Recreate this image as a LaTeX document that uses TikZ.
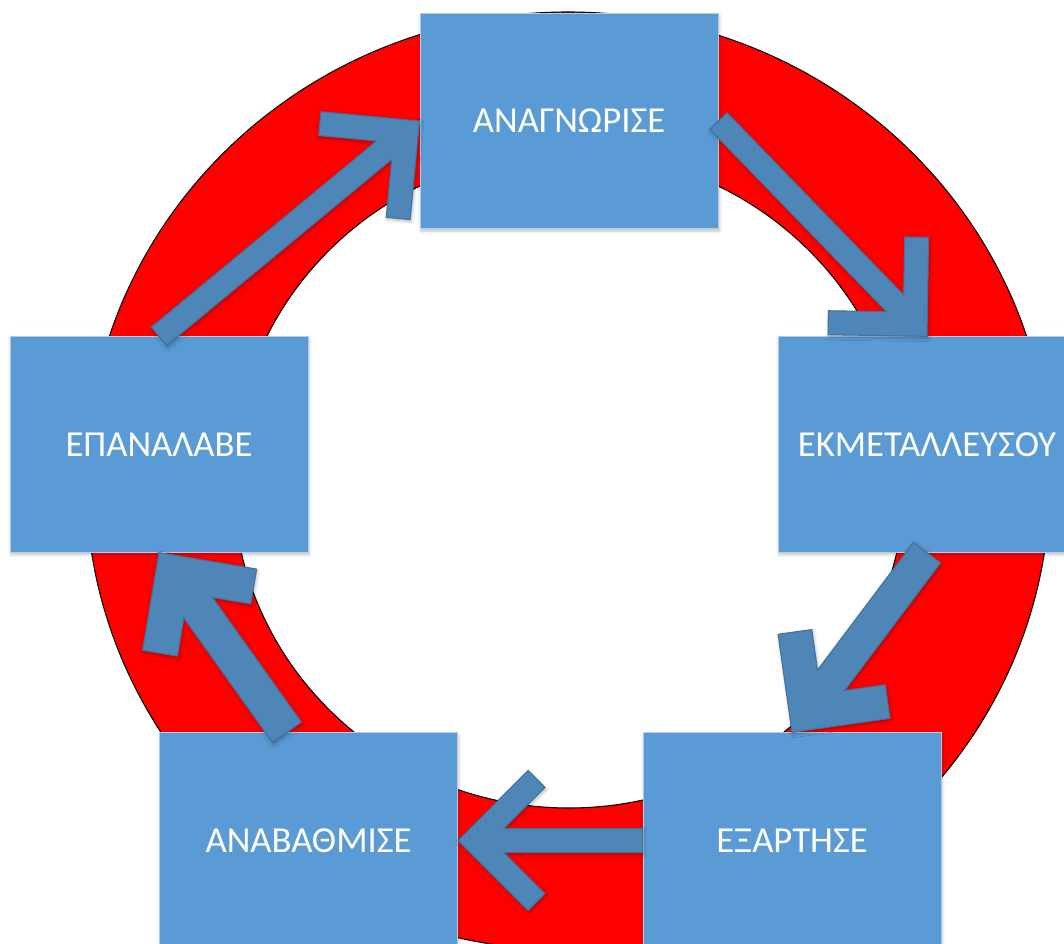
\documentclass[tikz,border=0pt]{standalone}
\usepackage{fontspec}
\setmainfont{Carlito}
\usetikzlibrary{calc,shadows.blur}

\definecolor{boxblue}{HTML}{5B9BD5}
\definecolor{boxedge}{HTML}{B4CCE6}
\definecolor{arrowblue}{HTML}{4F86B8}
\definecolor{arrowedge}{HTML}{41719C}

\tikzset{
  stagebox/.style={draw=boxedge, line width=0.75pt, fill=boxblue,
    minimum width=223.5pt, minimum height=161.5pt, inner sep=0pt,
    text=white, font=\fontsize{27.5pt}{32pt}\selectfont,
    blur shadow={shadow xshift=0.8pt, shadow yshift=-1.8pt,
      shadow blur radius=2.5pt, shadow opacity=25}},
  ringline/.style={fill=red, draw=black, line width=0.8pt, even odd rule},
  flowarrow/.style={fill=arrowblue, draw=arrowedge, line width=0.8pt,
    line join=miter,
    blur shadow={shadow xshift=0.8pt, shadow yshift=-1.5pt,
      shadow blur radius=2.5pt, shadow opacity=30}}
}

% Thick open-headed arrow from #2 (tail) to #3 (tip), #1 = band width in pt.
% Both arms leave the tip at 45 degrees and end 52.5pt back and 52.5pt out.
\newcommand{\cyclearrow}[3]{%
  \pgfmathsetlengthmacro{\capA}{52.5pt+0.7071*#1pt}%
  \pgfmathsetlengthmacro{\capP}{52.5pt-0.7071*#1pt}%
  \pgfmathsetlengthmacro{\joinA}{1.9142*#1pt}%
  \pgfmathsetlengthmacro{\halfW}{0.5*#1pt}%
  \path (#3) coordinate (t0) (#2) coordinate (t1);
  \path ($(t0)!52.5pt!(t1)$) coordinate (mo)
        ($(t0)!\capA!(t1)$) coordinate (mi)
        ($(t0)!\joinA!(t1)$) coordinate (mj);
  \draw[flowarrow] (t0)
    -- ($(mo)!52.5pt!90:(t1)$)
    -- ($(mi)!\capP!90:(t1)$)
    -- ($(mj)!\halfW!90:(t1)$)
    -- ($(t1)!\halfW!-90:(t0)$)
    -- ($(t1)!\halfW!90:(t0)$)
    -- ($(mj)!\halfW!-90:(t1)$)
    -- ($(mi)!\capP!-90:(t1)$)
    -- ($(mo)!52.5pt!-90:(t1)$)
    -- cycle;
}

\begin{document}
\begin{tikzpicture}[x=0.75pt, y=-0.75pt]
  \useasboundingbox (0,0) rectangle (1064,944);

  % red ring behind the stages
  \path[ringline] (568,481) ellipse [x radius=482, y radius=469]
                  (569,480) ellipse [x radius=336, y radius=328];

  % the five stages
  \node[stagebox] (B1) at (569,121)   {ΑΝΑΓΝΩΡΙΣΕ};
  \node[stagebox] (B2) at (927,444.5) {ΕΚΜΕΤΑΛΛΕΥΣΟΥ};
  \node[stagebox] (B3) at (792,840.5) {ΕΞΑΡΤΗΣΕ};
  \node[stagebox] (B4) at (308.5,840.5) {ΑΝΑΒΑΘΜΙΣΕ};
  \node[stagebox] (B5) at (159,444.5) {ΕΠΑΝΑΛΑΒΕ};

  \coordinate (B4out) at ($(B4.north west)!0.428!(B4.north east)$);

  % arrows around the cycle
  \cyclearrow{18}{B5.north}{B1.west}
  \cyclearrow{18}{B1.east}{B2.north}
  \cyclearrow{25.5}{B2.south}{B3.north}
  \cyclearrow{18}{B3.west}{B4.east}
  \cyclearrow{26.5}{B4out}{B5.south}
\end{tikzpicture}
\end{document}
